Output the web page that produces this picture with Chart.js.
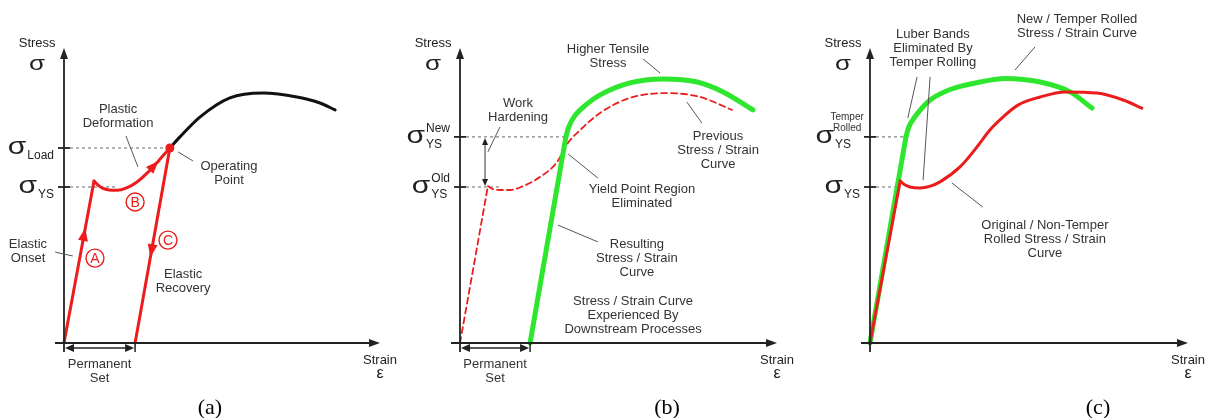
<!DOCTYPE html>
<html>
<head>
<meta charset="utf-8">
<script src="https://cdn.jsdelivr.net/npm/chart.js@4/dist/chart.umd.min.js"></script>
<style>
  body { margin: 0; background: #fff; }
  canvas { position: absolute; top: 0; }
</style>
</head>
<body>
<canvas id="chartA" width="400" height="418" style="left:0"></canvas>
<canvas id="chartB" width="400" height="418" style="left:400px"></canvas>
<canvas id="chartC" width="408" height="418" style="left:800px"></canvas>
<script>
// strain (x) and stress (y) on a 0..100 scale for each panel

// ---- (a) loading past yield, then unloading ----
var aElastic = [[0, 0], [9.5, 54.0]];
var aPlastic = [[9.5, 54.0], [10.6, 52.8], [12.2, 51.6], [14.2, 51.0], [16.8, 50.9], [19.8, 51.7], [23.0, 53.6], [26.3, 56.6], [29.9, 60.7], [33.5, 65.0]];
var aUltimate = [[33.5, 65.0], [36.7, 68.7], [43.0, 75.3], [52.5, 81.7], [63.0, 83.3], [73.7, 82.0], [81.0, 80.0], [85.8, 77.7]];
var aRecovery = [[33.5, 65.0], [22.5, 0]];
var aOperating = [[33.5, 65.0]];
var aStressTicks = [65.0, 52.0];
var aStressSubs = ['Load', 'YS'];

// ---- (b) previous curve vs. curve after work hardening ----
var bOldElastic = [[0, 0], [8.8, 52.3]];
var bOldPlastic = [[8.8, 52.3], [10.4, 51.3], [12.6, 51.0], [15.8, 51.0], [19.9, 52.3], [25.2, 55.3], [30.6, 60.3], [33.8, 66.3], [37.9, 71.0], [44.2, 76.7], [53.6, 81.7], [65.3, 83.3], [75.7, 82.0], [85.8, 77.7]];
var bNewElastic = [[22.1, 0], [33.4, 68.7]];
var bNewPlastic = [[33.4, 68.7], [34.3, 72.0], [36.2, 75.7], [40.1, 79.7], [44.2, 82.7], [53.6, 86.7], [64.0, 88.0], [74.8, 87.0], [83.0, 83.7], [92.4, 77.7]];
var bStressTicks = [68.7, 52.0];
var bStressSups = ['New', 'Old'];

// ---- (c) original vs. temper rolled ----
var cRedElastic = [[0, 0], [9.5, 54.0]];
var cRedPlastic = [[9.5, 54.0], [10.8, 52.8], [12.6, 52.0], [15.7, 51.7], [19.0, 52.3], [22.0, 53.7], [28.3, 58.7], [33.6, 65.3], [37.7, 71.0], [41.8, 75.3], [46.5, 79.3], [53.5, 82.0], [61.3, 83.7], [71.4, 83.3], [79.6, 81.0], [85.5, 78.3]];
var cGreenElastic = [[0, 0], [11.3, 68.7]];
var cGreenPlastic = [[11.3, 68.7], [12.2, 72.0], [14.2, 75.5], [16.5, 78.5], [18.9, 81.0], [25.2, 84.5], [34.6, 87.0], [42.5, 88.2], [53.5, 87.0], [62.9, 83.7], [69.8, 78.3]];
var cStressTicks = [68.7, 52.0];

var RED = '#ec1c1c';
var GREEN = '#2ee62e';
var SANS = '"Liberation Sans", Arial, sans-serif';
var SERIF = '"Liberation Serif", "Times New Roman", serif';

function series(pts, color, width, curved, dash) {
  return {
    data: pts.map(function (p) { return { x: p[0], y: p[1] }; }),
    showLine: true,
    borderColor: color,
    backgroundColor: color,
    borderWidth: width,
    borderDash: dash || [],
    cubicInterpolationMode: curved ? 'monotone' : 'default',
    tension: 0,
    pointRadius: 0,
    borderCapStyle: 'round',
    borderJoinStyle: 'round',
    clip: false
  };
}

function P(c, x, y) {
  return [c.scales.x.getPixelForValue(x), c.scales.y.getPixelForValue(y)];
}

function seg(ctx, a, b) {
  ctx.beginPath(); ctx.moveTo(a[0], a[1]); ctx.lineTo(b[0], b[1]); ctx.stroke();
}

function head(ctx, tip, ang, len, wid, color) {
  ctx.save();
  ctx.translate(tip[0], tip[1]); ctx.rotate(ang);
  ctx.fillStyle = color;
  ctx.beginPath(); ctx.moveTo(0, 0); ctx.lineTo(-len, -wid); ctx.lineTo(-len, wid); ctx.closePath(); ctx.fill();
  ctx.restore();
}

// arrowhead sitting on a line, between data points a -> b at fraction t
function headOn(c, a, b, t, color) {
  var pa = P(c, a[0], a[1]), pb = P(c, b[0], b[1]);
  var tip = [pa[0] + (pb[0] - pa[0]) * t, pa[1] + (pb[1] - pa[1]) * t];
  head(c.ctx, tip, Math.atan2(pb[1] - pa[1], pb[0] - pa[0]), 13, 5, color);
}

function txt(c, lines, x, y, size, color, font, gap) {
  var ctx = c.ctx, p = P(c, x, y);
  ctx.font = size + 'px ' + (font || SANS);
  ctx.fillStyle = color || '#333';
  ctx.textAlign = 'center'; ctx.textBaseline = 'middle';
  lines.forEach(function (s, i) { ctx.fillText(s, p[0], p[1] + i * (gap || 14)); });
}

function leader(c, x1, y1, x2, y2) {
  var ctx = c.ctx;
  ctx.strokeStyle = '#555'; ctx.lineWidth = 1; ctx.setLineDash([]);
  seg(ctx, P(c, x1, y1), P(c, x2, y2));
}

function bigSigma(ctx, x, y, size) {
  ctx.save();
  ctx.translate(x, y); ctx.scale(1.25, 1);
  ctx.font = size + 'px ' + SANS; ctx.fillStyle = '#222';
  ctx.textAlign = 'right'; ctx.textBaseline = 'alphabetic';
  ctx.fillText('σ', 0, 0);
  ctx.restore();
}

function sigma(c, v, sub, sup, shift) {
  var ctx = c.ctx, o = P(c, 0, v);
  ctx.strokeStyle = '#222'; ctx.lineWidth = 1.8; ctx.setLineDash([]);
  seg(ctx, [o[0] - 6, o[1]], [o[0] + 6, o[1]]);
  ctx.font = '12px ' + SANS; ctx.fillStyle = '#222';
  var w = Math.max(ctx.measureText(sub).width, sup ? ctx.measureText(sup).width : 0);
  var sx = o[0] - 10 - (shift || 0) - w;
  ctx.textAlign = 'left'; ctx.textBaseline = 'alphabetic';
  ctx.fillText(sub, sx, o[1] + 11);
  if (sup) ctx.fillText(sup, sx, o[1] - 5);
  bigSigma(ctx, sx - 1, o[1] + 6, 24);
}

function dashed(c, x2, v) {
  var ctx = c.ctx;
  ctx.strokeStyle = '#666'; ctx.lineWidth = 1; ctx.setLineDash([3, 3]);
  seg(ctx, P(c, 0, v), P(c, x2, v));
  ctx.setLineDash([]);
}

function axes(c, tag, tagX) {
  var ctx = c.ctx, o = P(c, 0, 0), top = P(c, 0, 98.3), right = P(c, 100, 0);
  ctx.strokeStyle = '#222'; ctx.lineWidth = 1.8; ctx.setLineDash([]);
  seg(ctx, [o[0], o[1] + 9], [o[0], top[1] + 8]);
  head(ctx, top, -Math.PI / 2, 11, 4, '#222');
  seg(ctx, [o[0] - 9, o[1]], [right[0] - 8, o[1]]);
  head(ctx, right, 0, 11, 4, '#222');
  txt(c, ['Stress'], -8.5, 99.7, 13, '#222');
  var s = P(c, -8.5, 95);
  ctx.save(); ctx.translate(s[0], s[1] + 6); ctx.scale(1.3, 1);
  ctx.font = '20px ' + SANS; ctx.textAlign = 'center'; ctx.fillStyle = '#222';
  ctx.fillText('σ', 0, 0); ctx.restore();
  txt(c, ['Strain'], 100, -5.7, 13, '#222');
  txt(c, ['ε'], 100, -10.3, 16, '#222');
  txt(c, [tag], tagX, -21.7, 22, '#000', SERIF);
}

// permanent set span below the strain axis
function span(c, x2) {
  var ctx = c.ctx, a = P(c, 0, -1.7), b = P(c, x2, -1.7), o = P(c, x2, 0);
  ctx.strokeStyle = '#222'; ctx.lineWidth = 1.5; ctx.setLineDash([]);
  seg(ctx, [a[0] + 4, a[1]], [b[0] - 4, b[1]]);
  head(ctx, [a[0] + 1, a[1]], Math.PI, 9, 4, '#222');
  head(ctx, [b[0] - 1, b[1]], 0, 9, 4, '#222');
  seg(ctx, [o[0], o[1]], [o[0], o[1] + 9]);
  txt(c, ['Permanent', 'Set'], x2 / 2, -7, 13);
}

function circled(c, letter, x, y) {
  var ctx = c.ctx, p = P(c, x, y);
  ctx.strokeStyle = RED; ctx.lineWidth = 1.4; ctx.setLineDash([]);
  ctx.beginPath(); ctx.arc(p[0], p[1], 9, 0, Math.PI * 2); ctx.stroke();
  ctx.font = '14px ' + SANS; ctx.fillStyle = RED;
  ctx.textAlign = 'center'; ctx.textBaseline = 'middle';
  ctx.fillText(letter, p[0], p[1] + 1);
}

function makeChart(id, datasets, pad, under, over) {
  return new Chart(document.getElementById(id), {
    type: 'scatter',
    data: { datasets: datasets },
    options: {
      responsive: false,
      animation: false,
      layout: { padding: pad },
      plugins: { legend: { display: false }, tooltip: { enabled: false } },
      scales: {
        x: { type: 'linear', min: 0, max: 100, display: false },
        y: { type: 'linear', min: 0, max: 100, display: false }
      }
    },
    plugins: [{
      id: 'sketch',
      beforeDatasetsDraw: function (c) { c.ctx.save(); under(c); c.ctx.restore(); },
      afterDatasetsDraw: function (c) { c.ctx.save(); over(c); c.ctx.restore(); }
    }]
  });
}

// ************************ (a) ************************
var opA = series(aOperating, RED, 0, false);
opA.pointRadius = 4.5;
makeChart('chartA', [
  opA,
  series(aElastic, RED, 3, false),
  series(aPlastic, RED, 3, true),
  series(aRecovery, RED, 3, false),
  series(aUltimate, '#111', 3, true)
], { left: 64, right: 20, top: 43, bottom: 75 },
function (c) {
  dashed(c, aOperating[0][0], aStressTicks[0]);
  dashed(c, 17, aStressTicks[1]);
},
function (c) {
  axes(c, '(a)', 46.2);
  sigma(c, aStressTicks[0], aStressSubs[0]);
  sigma(c, aStressTicks[1], aStressSubs[1]);
  span(c, aRecovery[1][0]);
  headOn(c, aElastic[0], aElastic[1], 0.71, RED);
  headOn(c, aPlastic[7], aPlastic[8], 1, RED);
  headOn(c, aRecovery[0], aRecovery[1], 0.56, RED);
  circled(c, 'A', 9.8, 28.3);
  circled(c, 'B', 22.5, 47);
  circled(c, 'C', 32.9, 34.3);
  txt(c, ['Plastic', 'Deformation'], 17.1, 77.7, 13);
  leader(c, 19.6, 69, 23.4, 58.7);
  txt(c, ['Operating', 'Point'], 52.2, 58.7, 13);
  leader(c, 36.1, 63.7, 40.8, 60.7);
  txt(c, ['Elastic', 'Onset'], -11.4, 33, 13);
  leader(c, -2.8, 30.3, 2.8, 29);
  txt(c, ['Elastic', 'Recovery'], 37.7, 22.7, 13);
});

// ************************ (b) ************************
makeChart('chartB', [
  series(bNewElastic, GREEN, 5, false),
  series(bNewPlastic, GREEN, 5, true),
  series(bOldElastic, RED, 1.8, false, [6, 4]),
  series(bOldPlastic, RED, 1.8, true, [6, 4])
], { left: 60, right: 23, top: 43, bottom: 75 },
function (c) {
  dashed(c, bNewElastic[1][0], bStressTicks[0]);
  dashed(c, 13, bStressTicks[1]);
},
function (c) {
  axes(c, '(b)', 65.3);
  sigma(c, bStressTicks[0], 'YS', bStressSups[0]);
  sigma(c, bStressTicks[1], 'YS', bStressSups[1]);
  span(c, bNewElastic[0][0]);
  // work hardening double arrow
  var ctx = c.ctx, t = P(c, 7.9, bStressTicks[0]), b = P(c, 7.9, bStressTicks[1]);
  ctx.strokeStyle = '#333'; ctx.lineWidth = 1;
  seg(ctx, [t[0], t[1] + 4], [b[0], b[1] - 4]);
  head(ctx, [t[0], t[1] + 1], -Math.PI / 2, 7, 3, '#222');
  head(ctx, [b[0], b[1] - 1], Math.PI / 2, 7, 3, '#222');
  txt(c, ['Work', 'Hardening'], 18.3, 79.7, 13);
  leader(c, 8.8, 63.7, 12.6, 72);
  txt(c, ['Higher Tensile', 'Stress'], 46.7, 97.7, 13);
  leader(c, 57.7, 94.7, 63.1, 90);
  txt(c, ['Previous', 'Stress / Strain', 'Curve'], 81.4, 69, 13);
  leader(c, 71.6, 80.3, 76.3, 73.3);
  txt(c, ['Yield Point Region', 'Eliminated'], 57.4, 51.3, 13);
  leader(c, 34.1, 63, 43.5, 55);
  txt(c, ['Resulting', 'Stress / Strain', 'Curve'], 55.8, 32.7, 13);
  leader(c, 30.9, 39.3, 43.5, 33.7);
  txt(c, ['Stress / Strain Curve', 'Experienced By', 'Downstream Processes'], 54.6, 14, 13);
});

// ************************ (c) ************************
makeChart('chartC', [
  series(cRedElastic, RED, 3, false),
  series(cRedPlastic, RED, 3, true),
  series(cGreenElastic, GREEN, 5, false),
  series(cGreenPlastic, GREEN, 5, true)
], { left: 70, right: 20, top: 43, bottom: 75 },
function (c) {
  dashed(c, cGreenElastic[1][0], cStressTicks[0]);
  dashed(c, cRedElastic[1][0], cStressTicks[1]);
},
function (c) {
  axes(c, '(c)', 71.7);
  sigma(c, cStressTicks[0], 'YS', null, 9);
  sigma(c, cStressTicks[1], 'YS');
  txt(c, ['Temper', 'Rolled'], -7.2, 75.3, 10, '#333', null, 11);
  txt(c, ['Luber Bands', 'Eliminated By', 'Temper Rolling'], 19.8, 102.7, 13);
  leader(c, 14.8, 88.7, 11.9, 75);
  leader(c, 18.9, 88.7, 16.7, 54.3);
  txt(c, ['New / Temper Rolled', 'Stress / Strain Curve'], 65.1, 108, 13);
  leader(c, 51.9, 98.7, 45.6, 91);
  txt(c, ['Original / Non-Temper', 'Rolled Stress / Strain', 'Curve'], 55, 39.3, 13);
  leader(c, 25.8, 53.3, 35.5, 45.3);
});
</script>
</body>
</html>
